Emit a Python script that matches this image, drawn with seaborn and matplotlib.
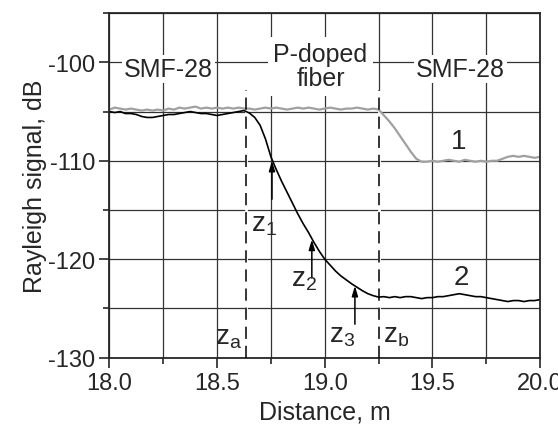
import matplotlib
matplotlib.use("Agg")
from matplotlib import pyplot as plt
from matplotlib.ticker import MultipleLocator, FormatStrFormatter
import seaborn as sns
import pandas as pd
import numpy as np

# curve 1 (grey): whole fiber
dist_1 = [18.000, 18.025, 18.050, 18.075, 18.100, 18.125, 18.150, 18.175, 18.200, 18.225,
          18.250, 18.275, 18.300, 18.325, 18.350, 18.375, 18.400, 18.425, 18.450, 18.475,
          18.500, 18.525, 18.550, 18.575, 18.600, 18.625, 18.650, 18.675, 18.700, 18.725,
          18.750, 18.775, 18.800, 18.825, 18.850, 18.875, 18.900, 18.925, 18.950, 18.975,
          19.000, 19.025, 19.050, 19.075, 19.100, 19.125, 19.150, 19.175, 19.200, 19.225,
          19.250, 19.275, 19.300, 19.325, 19.350, 19.375, 19.400, 19.425, 19.450, 19.475,
          19.500, 19.525, 19.550, 19.575, 19.600, 19.625, 19.650, 19.675, 19.700, 19.725,
          19.750, 19.775, 19.800, 19.825, 19.850, 19.875, 19.900, 19.925, 19.950, 19.975, 20.000]
signal_1 = [-104.8, -104.6, -104.7, -104.8, -104.7, -104.8, -104.9, -104.8, -104.9, -104.8,
            -104.9, -104.7, -104.8, -104.6, -104.7, -104.6, -104.5, -104.7, -104.6, -104.7,
            -104.6, -104.7, -104.6, -104.7, -104.6, -104.7, -104.7, -104.8, -104.7, -104.6,
            -104.7, -104.6, -104.7, -104.8, -104.7, -104.6, -104.7, -104.6, -104.7, -104.8,
            -104.7, -104.6, -104.7, -104.8, -104.7, -104.7, -104.6, -104.7, -104.8, -104.7,
            -104.8, -105.4, -106.0, -106.7, -107.5, -108.3, -109.1, -109.8, -110.1, -110.1,
            -110.0, -110.1, -110.0, -109.9, -110.0, -110.1, -109.9, -110.0, -110.1, -110.0,
            -110.1, -110.0, -110.0, -109.8, -109.6, -109.5, -109.6, -109.5, -109.6, -109.7, -109.6]

# curve 2 (black): with the P-doped section
dist_2 = [18.000, 18.025, 18.050, 18.075, 18.100, 18.125, 18.150, 18.175, 18.200, 18.225,
          18.250, 18.275, 18.300, 18.325, 18.350, 18.375, 18.400, 18.425, 18.450, 18.475,
          18.500, 18.525, 18.550, 18.575, 18.600, 18.625, 18.650, 18.675, 18.700, 18.725,
          18.750, 18.775, 18.800, 18.825, 18.850, 18.875, 18.900, 18.925, 18.950, 18.975,
          19.000, 19.025, 19.050, 19.075, 19.100, 19.125, 19.150, 19.175, 19.200, 19.225,
          19.250, 19.275, 19.300, 19.325, 19.350, 19.375, 19.400, 19.425, 19.450, 19.475,
          19.500, 19.525, 19.550, 19.575, 19.600, 19.625, 19.650, 19.675, 19.700, 19.725,
          19.750, 19.775, 19.800, 19.825, 19.850, 19.875, 19.900, 19.925, 19.950, 19.975, 20.000]
signal_2 = [-105.0, -105.1, -105.0, -105.2, -105.2, -105.3, -105.5, -105.6, -105.6, -105.5,
            -105.4, -105.3, -105.3, -105.2, -105.1, -105.0, -105.1, -105.2, -105.2, -105.3,
            -105.4, -105.3, -105.2, -105.1, -105.0, -104.9, -105.15, -105.6, -106.4, -107.8,
            -109.6, -110.9, -112.1, -113.2, -114.3, -115.4, -116.4, -117.3, -118.3, -119.2,
            -120.0, -120.6, -121.2, -121.7, -122.1, -122.5, -122.85, -123.2, -123.5, -123.7,
            -123.85, -123.8, -123.9, -123.8, -123.9, -123.8, -123.8, -123.9, -124.0, -123.9,
            -123.9, -123.8, -123.8, -123.7, -123.6, -123.5, -123.6, -123.7, -123.8, -123.8,
            -123.9, -124.0, -124.1, -124.2, -124.3, -124.2, -124.2, -124.3, -124.2, -124.2, -124.1]

# section borders and arrow marks
z_border = [18.635, 19.25]
z_border_top = -102.8
z_arrow_x = [18.755, 18.94, 19.14]
z_arrow_y = [-110.0, -118.0, -122.7]

df1 = pd.DataFrame({'Distance': dist_1, 'Signal': signal_1})
df2 = pd.DataFrame({'Distance': dist_2, 'Signal': signal_2})

sns.set_style("ticks")
plt.rcParams['font.family'] = ['Liberation Sans', 'DejaVu Sans']
plt.rcParams['mathtext.fontset'] = 'custom'
plt.rcParams['mathtext.rm'] = 'Liberation Sans'
plt.rcParams['axes.unicode_minus'] = False

fig = plt.figure(figsize=(5.58, 4.27), dpi=100)
ax = fig.add_axes([0.196, 0.16, 0.772, 0.807])

sns.lineplot(data=df1, x='Distance', y='Signal', color='#a0a0a0', linewidth=1.6, ax=ax)
sns.lineplot(data=df2, x='Distance', y='Signal', color='black', linewidth=1.2, ax=ax)

# dashed borders, masking the grid line below them
for zb in z_border:
    ax.vlines(zb, -130, z_border_top, color='white', linewidth=2.0, zorder=1.5)
    ax.vlines(zb, -130, z_border_top, color='black', linestyle=(0, (8, 4.5)),
              linewidth=1.1, zorder=3)

ax.set_xlim(18.0, 20.0)
ax.set_ylim(-130, -95)
ax.xaxis.set_major_locator(MultipleLocator(0.5))
ax.xaxis.set_minor_locator(MultipleLocator(0.25))
ax.yaxis.set_major_locator(MultipleLocator(10))
ax.yaxis.set_minor_locator(MultipleLocator(5))
ax.xaxis.set_major_formatter(FormatStrFormatter('%.1f'))
ax.grid(True, which='both', color='#333333', linewidth=0.9, zorder=0)
ax.set_axisbelow(True)
ax.tick_params(which='major', direction='out', length=7, width=1.2, labelsize=17, pad=3)
ax.tick_params(which='minor', direction='out', length=4, width=1.2)
for s in ax.spines.values():
    s.set_linewidth(1.3)
    s.set_visible(True)

ax.set_xlabel('Distance, m', fontsize=18, labelpad=4)
ax.set_ylabel('Rayleigh signal, dB', fontsize=18, labelpad=1)

box = dict(facecolor='white', edgecolor='none', pad=1.5)
ax.text(18.275, -100.7, 'SMF-28', fontsize=18, ha='center', va='center', bbox=box, zorder=4)
ax.text(18.98, -100.4, 'P-doped\nfiber', fontsize=18, ha='center', va='center',
        linespacing=1.0, bbox=dict(facecolor='white', edgecolor='none', pad=4), zorder=4)
ax.text(19.63, -100.7, 'SMF-28', fontsize=18, ha='center', va='center', bbox=box, zorder=4)
ax.text(19.62, -108.0, '1', fontsize=20, ha='center', va='center', zorder=4)
ax.text(19.635, -121.8, '2', fontsize=20, ha='center', va='center', zorder=4)

# arrows towards z1, z2, z3
for xa, ya in zip(z_arrow_x, z_arrow_y):
    ax.annotate('', xy=(xa, ya), xytext=(xa, ya - 3.9),
                arrowprops=dict(arrowstyle='-|>,head_length=0.6,head_width=0.18',
                                color='black', linewidth=1.1, shrinkA=0, shrinkB=0))

zfont = 20
ax.text(18.555, -127.9, r'z$_\mathregular{a}$', fontsize=zfont, ha='center', va='center')
ax.text(18.72, -116.4, r'z$_\mathregular{1}$', fontsize=zfont, ha='center', va='center')
ax.text(18.905, -122.0, r'z$_\mathregular{2}$', fontsize=zfont, ha='center', va='center')
ax.text(19.08, -127.7, r'z$_\mathregular{3}$', fontsize=zfont, ha='center', va='center')
ax.text(19.33, -127.7, r'z$_\mathregular{b}$', fontsize=zfont, ha='center', va='center')

plt.savefig('out.png', dpi=100)
